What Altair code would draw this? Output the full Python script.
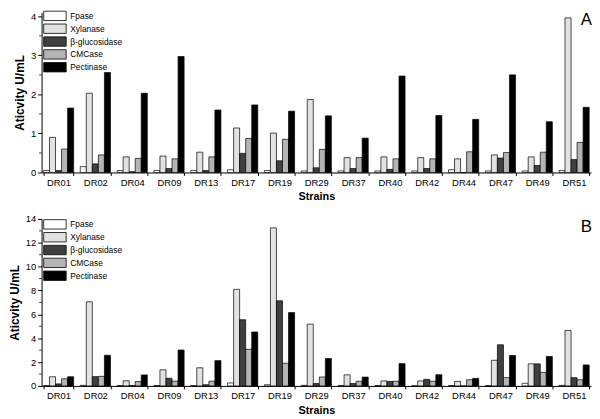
import altair as alt
import pandas as pd

strains = ["DR01", "DR02", "DR04", "DR09", "DR13", "DR17", "DR19", "DR29",
           "DR37", "DR40", "DR42", "DR44", "DR47", "DR49", "DR51"]
enzymes = ["Fpase", "Xylanase", "β-glucosidase", "CMCase", "Pectinase"]
colors = ["#ffffff", "#e2e2e2", "#404040", "#b4b4b4", "#000000"]

# Panel A
a_fpase = [0.05, 0.15, 0.05, 0.05, 0.05, 0.07, 0.05, 0.04, 0.04, 0.04, 0.04, 0.07, 0.04, 0.04, 0.05]
a_xylanase = [0.90, 2.03, 0.40, 0.42, 0.52, 1.14, 1.01, 1.87, 0.38, 0.40, 0.38, 0.35, 0.45, 0.40, 3.96]
a_bgluc = [0.05, 0.22, 0.02, 0.10, 0.05, 0.49, 0.30, 0.12, 0.10, 0.08, 0.10, 0.00, 0.37, 0.18, 0.33]
a_cmcase = [0.60, 0.45, 0.36, 0.35, 0.40, 0.87, 0.85, 0.59, 0.38, 0.35, 0.35, 0.53, 0.51, 0.52, 0.77]
a_pectinase = [1.65, 2.56, 2.03, 2.97, 1.60, 1.73, 1.57, 1.45, 0.88, 2.47, 1.46, 1.36, 2.50, 1.30, 1.67]

# Panel B
b_fpase = [0.02, 0.05, 0.03, 0.03, 0.03, 0.25, 0.10, 0.05, 0.03, 0.03, 0.02, 0.03, 0.03, 0.22, 0.05]
b_xylanase = [0.77, 7.05, 0.43, 1.35, 1.52, 8.10, 13.25, 5.18, 0.93, 0.42, 0.42, 0.38, 2.15, 1.85, 4.65]
b_bgluc = [0.17, 0.78, 0.04, 0.64, 0.10, 5.55, 7.14, 0.20, 0.20, 0.38, 0.55, 0.00, 3.45, 1.85, 0.69]
b_cmcase = [0.60, 0.80, 0.37, 0.40, 0.40, 3.07, 1.90, 0.75, 0.39, 0.39, 0.39, 0.52, 0.70, 1.13, 0.52]
b_pectinase = [0.77, 2.57, 0.92, 3.01, 2.12, 4.52, 6.15, 2.30, 0.74, 1.87, 0.94, 0.63, 2.55, 2.47, 1.76]

a_major = [0, 1, 2, 3, 4]
a_minor = [0.5, 1.5, 2.5, 3.5]
b_major = [0, 2, 4, 6, 8, 10, 12, 14]
b_minor = [1, 3, 5, 7, 9, 11, 13]

FONT = "Liberation Sans"
W = 556


def make_df(series):
    rows = []
    for e, vals in zip(enzymes, series):
        for s, v in zip(strains, vals):
            rows.append({"Strain": s, "Enzyme": e, "Value": v})
    return pd.DataFrame(rows)


def panel(df, ymax, major, minor, letter, H, leg_y):
    yscale = alt.Scale(domain=[0, ymax], nice=False)
    yaxis = alt.Axis(values=major, title="Aticvity U/mL", tickSize=4,
                     labelPadding=2, titlePadding=4, grid=False,
                     labelOverlap=False, labelFontSize=9.5, titleFontSize=12)
    bars = alt.Chart(df).mark_bar(stroke="black", strokeWidth=0.7).encode(
        x=alt.X("Strain:N", sort=strains,
                scale=alt.Scale(paddingInner=0.18, paddingOuter=0.05),
                axis=alt.Axis(title="Strains", labelAngle=0, tickBand="extent",
                              tickSize=3, labelPadding=2, titlePadding=4,
                              labelFontSize=9.5, titleFontSize=11)),
        xOffset=alt.XOffset("Enzyme:N", sort=enzymes,
                            scale=alt.Scale(paddingInner=0, paddingOuter=0)),
        y=alt.Y("Value:Q", scale=yscale, axis=yaxis),
        color=alt.Color("Enzyme:N", sort=enzymes,
                        scale=alt.Scale(domain=enzymes, range=colors),
                        legend=alt.Legend(title=None, orient="none",
                                          legendX=8, legendY=leg_y,
                                          symbolType="M-2.4,-1H2.4V1H-2.4Z",
                                          symbolSize=90,
                                          symbolStrokeColor="black",
                                          symbolStrokeWidth=0.8,
                                          symbolOpacity=1,
                                          labelOffset=10, rowPadding=0,
                                          labelFontSize=8.5, labelFont=FONT,
                                          labelColor="black")),
    )
    minor_df = pd.DataFrame({"Value": minor})
    ticks = alt.Chart(minor_df).mark_rule(color="black", strokeWidth=0.8).encode(
        y=alt.Y("Value:Q", scale=yscale, axis=yaxis),
        x=alt.value(0), x2=alt.value(-2.5))
    lab = alt.Chart(pd.DataFrame({"t": [letter]})).mark_text(
        fontSize=17, font=FONT, align="right", baseline="top", color="black"
    ).encode(text="t:N", x=alt.value(W + 1), y=alt.value(0))
    return alt.layer(bars, ticks, lab).properties(width=W, height=H)


pa = panel(make_df([a_fpase, a_xylanase, a_bgluc, a_cmcase, a_pectinase]),
           4.1, a_major, a_minor, "A", 162, -2)
pb = panel(make_df([b_fpase, b_xylanase, b_bgluc, b_cmcase, b_pectinase]),
           14, b_major, b_minor, "B", 169, 0)

chart = alt.vconcat(pa, pb, spacing=47, bounds="flush").resolve_scale(
    x="independent", y="independent", color="independent", xOffset="independent"
).resolve_legend(color="independent").properties(
    padding={"left": 0, "top": 0, "right": 0, "bottom": 0}
).configure_view(stroke=None).configure_axis(
    domainColor="black", tickColor="black", labelColor="black",
    titleColor="black", labelFont=FONT, titleFont=FONT, titleFontWeight="bold",
    domainWidth=1, tickWidth=1
)

chart.save("out.html", embed_options={"renderer": "svg", "actions": False})
